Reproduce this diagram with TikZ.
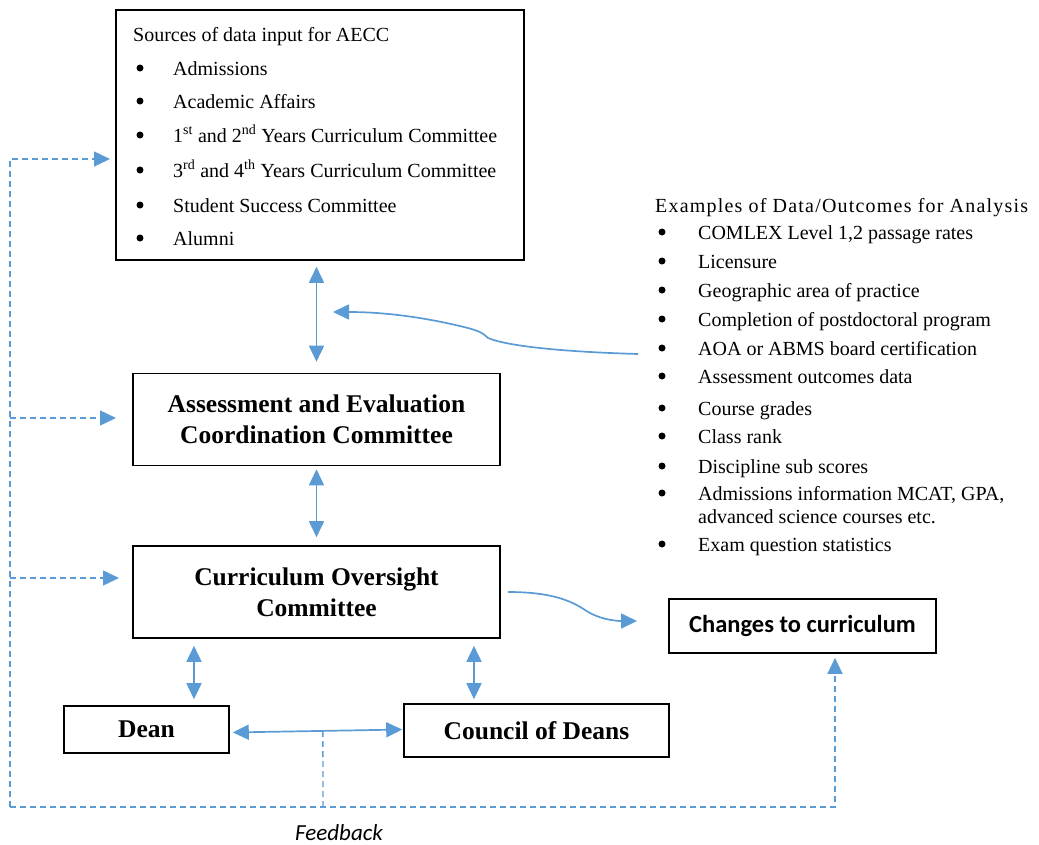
\documentclass[tikz,border=0pt]{standalone}
\usepackage{fontspec}
\setmainfont{Liberation Serif}
\newfontfamily\carl{Carlito}
\usetikzlibrary{arrows.meta,calc}
\definecolor{ablue}{HTML}{5B9BD5}
\begin{document}
\begin{tikzpicture}[x=1pt,y=-1pt,
 box/.style={draw=black,line width=1.6pt,inner sep=0pt,fill=white},
 conn/.style={draw=ablue,line width=1.7pt},
 dbl/.style={conn,{Triangle[length=16pt,width=15pt]}-{Triangle[length=16pt,width=15pt]}},
 one/.style={conn,-{Triangle[length=16pt,width=15pt]}},
 fb/.style={draw=ablue,line width=1.4pt,dash pattern=on 6pt off 4pt},
 fbar/.style={fb,-{Triangle[length=16pt,width=15pt]}},
 dot/.style={circle,fill=black,inner sep=0pt,minimum size=7pt},
 lbl/.style={inner sep=0pt,anchor=base west,font=\fontsize{20}{24}\selectfont},
 ex/.style={inner sep=0pt,anchor=base west,font=\fontsize{20}{23}\selectfont},
 bold/.style={font=\fontsize{25.5}{31}\selectfont\bfseries,align=center}
]
\useasboundingbox (0,0) rectangle (1039,844);

% Sources box
\node[box,minimum width=408pt,minimum height=250pt] (src) at (320,135) {};
\node[lbl] (srct) at (133,41) {Sources of data input for AECC};
\foreach \y/\n in {75/1,108/2,142/3,177/4,212/5,245/6}{
  \node[dot] (sb\n) at (140,\y-7) {};
}
\node[lbl] (s1) at (173,75) {Admissions};
\node[lbl] (s2) at (173,108) {Academic Affairs};
\node[lbl] (s3) at (173,142) {1\textsuperscript{st} and 2\textsuperscript{nd} Years Curriculum Committee};
\node[lbl] (s4) at (173,177) {3\textsuperscript{rd} and 4\textsuperscript{th} Years Curriculum Committee};
\node[lbl] (s5) at (173,212) {Student Success Committee};
\node[lbl] (s6) at (173,245) {Alumni};

% Main boxes
\node[box,bold,minimum width=367pt,minimum height=92pt] (aecc) at (316.5,419.5) {Assessment and Evaluation\\Coordination Committee};
\node[box,bold,minimum width=367pt,minimum height=92pt] (coc) at (316.5,592) {Curriculum Oversight\\Committee};
\node[box,minimum width=267pt,minimum height=54pt,font=\carl\bfseries\fontsize{24.5}{28}\selectfont] (chg) at (802.5,626) {Changes to curriculum};
\node[box,bold,minimum width=165pt,minimum height=47pt] (dean) at (146.5,729.5) {Dean};
\node[box,bold,minimum width=265pt,minimum height=53pt] (cod) at (536.5,730.5) {Council of Deans};

% Examples list
\node[ex,font=\fontsize{20}{23}\selectfont\addfontfeatures{LetterSpace=6}] (ext) at (655,212) {Examples of Data/Outcomes for Analysis};
\foreach \y/\n in {239/1,268/2,297/3,326/4,355/5,383/6,415/7,443/8,473/9,500/10,551/11}{
  \node[dot] (eb\n) at (662,\y-7) {};
}
\node[ex] (e1) at (698,239) {COMLEX Level 1,2 passage rates};
\node[ex] (e2) at (698,268) {Licensure};
\node[ex] (e3) at (698,297) {Geographic area of practice};
\node[ex] (e4) at (698,326) {Completion of postdoctoral program};
\node[ex] (e5) at (698,355) {AOA or ABMS board certification};
\node[ex] (e6) at (698,383) {Assessment outcomes data};
\node[ex] (e7) at (698,415) {Course grades};
\node[ex] (e8) at (698,443) {Class rank};
\node[ex] (e9) at (698,473) {Discipline sub scores};
\node[ex] (e10) at (698,500) {Admissions information MCAT, GPA,};
\node[ex] (e10b) at (698,523) {advanced science courses etc.};
\node[ex] (e11) at (698,551) {Exam question statistics};

% Feedback label
\node[inner sep=0pt,anchor=base,font=\carl\itshape\fontsize{23}{27}\selectfont] (fbt) at (339,840) {Feedback};

% Vertical double arrows
\draw[dbl,shorten <=6pt,shorten >=11pt] (src.south -| aecc.north) -- (aecc.north);
\draw[dbl,shorten <=3pt,shorten >=8pt] (aecc.south) -- (coc.north);
\coordinate (cdt) at ($(coc.south)+(-122.5,0)$);
\coordinate (cdb) at ($(dean.north)+(47.5,0)$);
\draw[dbl,shorten <=7pt,shorten >=6pt] (cdt) -- (cdb);
\coordinate (cct) at ($(coc.south)+(157.5,0)$);
\coordinate (ccb) at ($(cod.north)+(-62.5,0)$);
\draw[dbl,shorten <=7pt,shorten >=4pt] (cct) -- (ccb);
\draw[dbl,shorten <=3pt,shorten >=1pt] ($(dean.east)+(0,3)$) -- ($(cod.west)+(0,-1)$);

% Curved arrows
\coordinate (exs) at (638,354);
\coordinate (exe) at (333,312);
\draw[one] (exs) .. controls (570,352) and (510,347) .. (488,338)
  .. controls (483,333) and (479,331) .. (468,328)
  .. controls (420,316) and (380,312) .. (exe);
\coordinate (cocs) at ($(coc.east)+(7,0)$);
\coordinate (chin) at (637,621);
\draw[one] (cocs) .. controls (550,592) and (570,600) .. (585,610)
  .. controls (598,619) and (615,621) .. (chin);

% Feedback loop
\coordinate (fbj) at ($(dean.east)!0.537!(cod.west)+(0,1)$);
\coordinate (fbm) at (323,807);
\coordinate (fbl) at (10,807);
\coordinate (fbr) at (835,807);
\coordinate (fa) at (10,159);
\coordinate (fbb) at (10,418);
\coordinate (fc) at (10,578);
\coordinate (fae) at (110,159);
\coordinate (fbe) at (116,418);
\coordinate (fce) at (119,578);
\draw[fb] (fbj) -- (fbm);
\draw[fbar] (fbl) -- (fbr) -- ([yshift=-4pt]chg.south -| fbr);
\draw[fbar] (fbl) -- (fa) -- (fae);
\draw[fbar] (fbb) -- (fbe);
\draw[fbar] (fc) -- (fce);
\end{tikzpicture}
\end{document}
